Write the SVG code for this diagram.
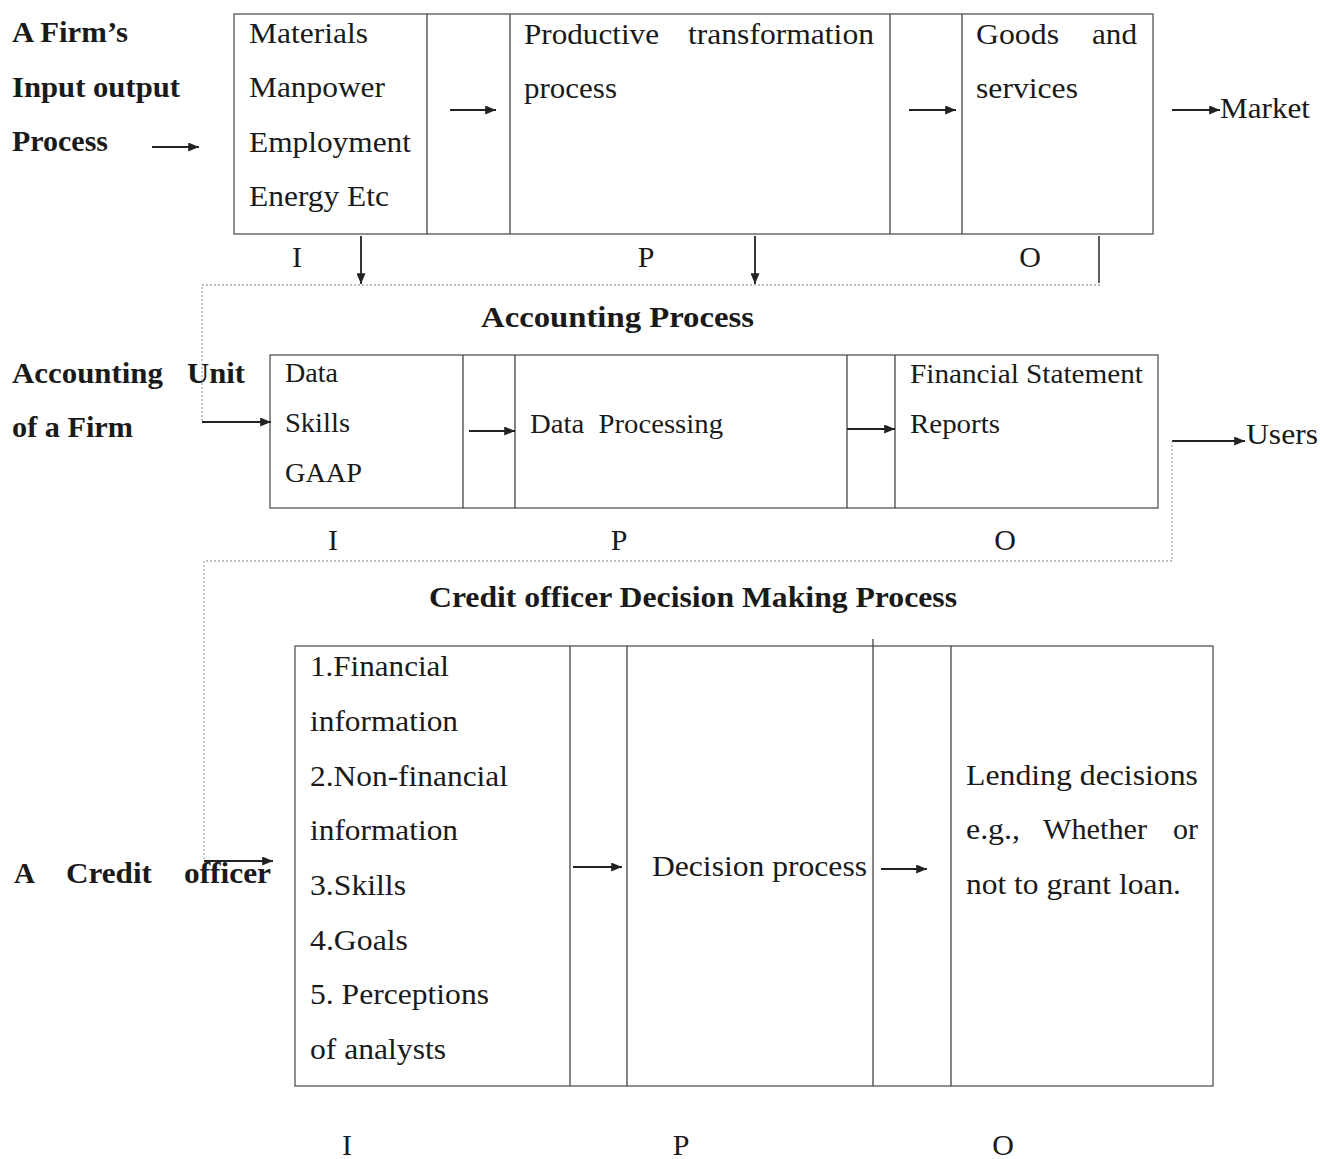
<svg xmlns="http://www.w3.org/2000/svg" width="1320" height="1159" viewBox="0 0 1320 1159">
<defs>
<marker id="ah" viewBox="0 0 12 10" refX="12" refY="5" markerWidth="12" markerHeight="9" markerUnits="userSpaceOnUse" orient="auto">
<path d="M0,0 L12,5 L0,10 z" fill="#222"/>
</marker>
<style>
.t{font-family:"Liberation Serif","Times New Roman",serif;fill:#1a1a1a}
.b{font-weight:bold}
.f30{font-size:30px}
.f27{font-size:27px}
.f29{font-size:29px}
.box{fill:none;stroke:#555;stroke-width:1.3}
.div{stroke:#444;stroke-width:1.3;fill:none}
.arr{stroke:#222;stroke-width:1.8;fill:none;marker-end:url(#ah)}
.ln{stroke:#333;stroke-width:1.6;fill:none}
.dot{stroke:#aaa;stroke-width:1.3;stroke-dasharray:2 2;fill:none}
</style>
</defs>
<rect width="1320" height="1159" fill="#fff"/>

<g id="firm-label">
<text class="t b f29" x="12" y="42" textLength="116" lengthAdjust="spacingAndGlyphs">A Firm’s</text>
<text class="t b f29" x="12" y="97" textLength="168" lengthAdjust="spacingAndGlyphs">Input output</text>
<text class="t b f29" x="12" y="151" textLength="96" lengthAdjust="spacingAndGlyphs">Process</text>
</g>

<g id="firm-process">
<rect class="box" x="234" y="14" width="919" height="220"/>
<line class="div" x1="427" y1="14" x2="427" y2="234"/>
<line class="div" x1="510" y1="14" x2="510" y2="234"/>
<line class="div" x1="890" y1="14" x2="890" y2="234"/>
<line class="div" x1="962" y1="14" x2="962" y2="234"/>
<text class="t f30" x="249" y="43" textLength="119" lengthAdjust="spacingAndGlyphs">Materials</text>
<text class="t f30" x="249" y="97" textLength="136" lengthAdjust="spacingAndGlyphs">Manpower</text>
<text class="t f30" x="249" y="152" textLength="162" lengthAdjust="spacingAndGlyphs">Employment</text>
<text class="t f30" x="249" y="206" textLength="140" lengthAdjust="spacingAndGlyphs">Energy Etc</text>
<text class="t f30" x="524" y="44" textLength="135" lengthAdjust="spacingAndGlyphs">Productive</text>
<text class="t f30" x="688" y="44" textLength="186" lengthAdjust="spacingAndGlyphs">transformation</text>
<text class="t f30" x="524" y="98" textLength="93" lengthAdjust="spacingAndGlyphs">process</text>
<text class="t f30" x="976" y="44" textLength="83" lengthAdjust="spacingAndGlyphs">Goods</text>
<text class="t f30" x="1092" y="44" textLength="45" lengthAdjust="spacingAndGlyphs">and</text>
<text class="t f30" x="976" y="98" textLength="102" lengthAdjust="spacingAndGlyphs">services</text>
</g>

<g id="market">
<text class="t f30" x="1220" y="118" textLength="90" lengthAdjust="spacingAndGlyphs">Market</text>
</g>

<g id="firm-ipo">
<text class="t f30" x="297" y="267" text-anchor="middle">I</text>
<text class="t f30" x="646" y="267" text-anchor="middle">P</text>
<text class="t f30" x="1030" y="267" text-anchor="middle">O</text>
</g>

<g id="accounting-title">
<text class="t b f29" x="481" y="327" textLength="273" lengthAdjust="spacingAndGlyphs">Accounting Process</text>
</g>

<g id="accounting-label">
<text class="t b f29" x="12" y="383" textLength="151" lengthAdjust="spacingAndGlyphs">Accounting</text>
<text class="t b f29" x="187" y="383" textLength="58" lengthAdjust="spacingAndGlyphs">Unit</text>
<text class="t b f29" x="12" y="437" textLength="121" lengthAdjust="spacingAndGlyphs">of a Firm</text>
</g>

<g id="accounting-process">
<rect class="box" x="270" y="355" width="888" height="153"/>
<line class="div" x1="463" y1="355" x2="463" y2="508"/>
<line class="div" x1="515" y1="355" x2="515" y2="508"/>
<line class="div" x1="847" y1="355" x2="847" y2="508"/>
<line class="div" x1="895" y1="355" x2="895" y2="508"/>
<text class="t f27" x="285" y="382" textLength="53" lengthAdjust="spacingAndGlyphs">Data</text>
<text class="t f27" x="285" y="432" textLength="65" lengthAdjust="spacingAndGlyphs">Skills</text>
<text class="t f27" x="285" y="482" textLength="77" lengthAdjust="spacingAndGlyphs">GAAP</text>
<text class="t f27" x="530" y="433" textLength="193" lengthAdjust="spacingAndGlyphs" xml:space="preserve">Data  Processing</text>
<text class="t f27" x="910" y="383" textLength="233" lengthAdjust="spacingAndGlyphs">Financial Statement</text>
<text class="t f27" x="910" y="433" textLength="90" lengthAdjust="spacingAndGlyphs">Reports</text>
</g>

<g id="users">
<text class="t f30" x="1246" y="444" textLength="72" lengthAdjust="spacingAndGlyphs">Users</text>
</g>

<g id="accounting-ipo">
<text class="t f30" x="333" y="550" text-anchor="middle">I</text>
<text class="t f30" x="619" y="550" text-anchor="middle">P</text>
<text class="t f30" x="1005" y="550" text-anchor="middle">O</text>
</g>

<g id="credit-title">
<text class="t b f29" x="429" y="607" textLength="528" lengthAdjust="spacingAndGlyphs">Credit officer Decision Making Process</text>
</g>

<g id="credit-label">
<text class="t b f29" x="14" y="883">A</text>
<text class="t b f29" x="66" y="883" textLength="86" lengthAdjust="spacingAndGlyphs">Credit</text>
<text class="t b f29" x="184" y="883" textLength="87" lengthAdjust="spacingAndGlyphs">officer</text>
</g>

<g id="credit-process">
<rect class="box" x="295" y="646" width="918" height="440"/>
<line class="div" x1="570" y1="646" x2="570" y2="1086"/>
<line class="div" x1="627" y1="646" x2="627" y2="1086"/>
<line class="div" x1="873" y1="639" x2="873" y2="1086"/>
<line class="div" x1="951" y1="646" x2="951" y2="1086"/>
<text class="t f30" x="310" y="676" textLength="139" lengthAdjust="spacingAndGlyphs">1.Financial</text>
<text class="t f30" x="310" y="731" textLength="148" lengthAdjust="spacingAndGlyphs">information</text>
<text class="t f30" x="310" y="786" textLength="198" lengthAdjust="spacingAndGlyphs">2.Non-financial</text>
<text class="t f30" x="310" y="840" textLength="148" lengthAdjust="spacingAndGlyphs">information</text>
<text class="t f30" x="310" y="895" textLength="96" lengthAdjust="spacingAndGlyphs">3.Skills</text>
<text class="t f30" x="310" y="950" textLength="98" lengthAdjust="spacingAndGlyphs">4.Goals</text>
<text class="t f30" x="310" y="1004" textLength="179" lengthAdjust="spacingAndGlyphs">5. Perceptions</text>
<text class="t f30" x="310" y="1059" textLength="136" lengthAdjust="spacingAndGlyphs">of analysts</text>
<text class="t f30" x="652" y="876" textLength="215" lengthAdjust="spacingAndGlyphs">Decision process</text>
<text class="t f30" x="966" y="785" textLength="232" lengthAdjust="spacingAndGlyphs">Lending decisions</text>
<text class="t f30" x="966" y="839" textLength="54" lengthAdjust="spacingAndGlyphs">e.g.,</text>
<text class="t f30" x="1043" y="839" textLength="104" lengthAdjust="spacingAndGlyphs">Whether</text>
<text class="t f30" x="1173" y="839" textLength="25" lengthAdjust="spacingAndGlyphs">or</text>
<text class="t f30" x="966" y="894" textLength="215" lengthAdjust="spacingAndGlyphs">not to grant loan.</text>
</g>

<g id="credit-ipo">
<text class="t f30" x="347" y="1155" text-anchor="middle">I</text>
<text class="t f30" x="681" y="1155" text-anchor="middle">P</text>
<text class="t f30" x="1003" y="1155" text-anchor="middle">O</text>
</g>

<g id="connectors">
<line class="arr" x1="152" y1="147" x2="199" y2="147"/>
<line class="arr" x1="450" y1="110" x2="496" y2="110"/>
<line class="arr" x1="909" y1="110" x2="956" y2="110"/>
<line class="arr" x1="1172" y1="110" x2="1220" y2="110"/>
<line class="arr" x1="361" y1="236" x2="361" y2="284"/>
<line class="arr" x1="755" y1="236" x2="755" y2="284"/>
<line class="ln" x1="1099" y1="236" x2="1099" y2="283"/>
<polyline class="dot" points="1100,285 202,285 202,422"/>
<line class="arr" x1="202" y1="422" x2="271" y2="422"/>
<line class="arr" x1="469" y1="431" x2="515" y2="431"/>
<line class="arr" x1="847" y1="429" x2="895" y2="429"/>
<line class="arr" x1="1172" y1="441" x2="1245" y2="441"/>
<polyline class="dot" points="1172,441 1172,561 204,561 204,861"/>
<line class="arr" x1="204" y1="861" x2="273" y2="861"/>
<line class="arr" x1="573" y1="867" x2="622" y2="867"/>
<line class="arr" x1="881" y1="869" x2="927" y2="869"/>
</g>
</svg>
